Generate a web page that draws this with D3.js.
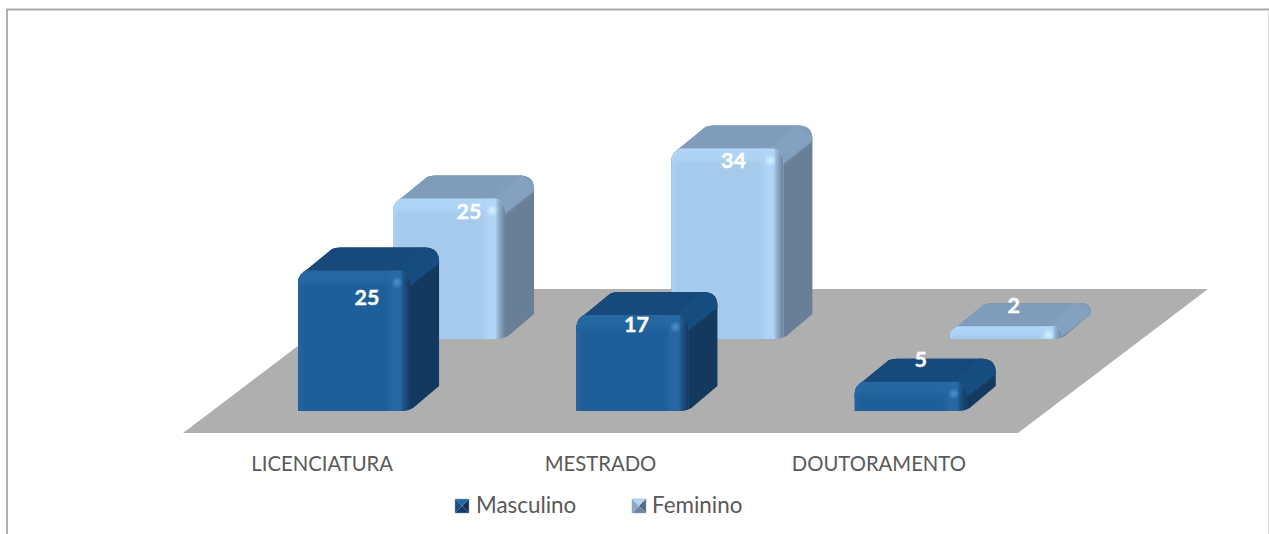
<!DOCTYPE html>
<html><head><meta charset="utf-8">
<script src="https://cdn.jsdelivr.net/npm/d3@7"></script>
<style>html,body{margin:0;padding:0;background:#fff;overflow:hidden}svg{display:block}text{font-family:Lato,"Open Sans",sans-serif}</style>
</head><body>
<script>
const categories = ["LICENCIATURA","MESTRADO","DOUTORAMENTO"];
const seriesNames = ["Masculino","Feminino"];
const masculino = [25,17,5];
const feminino = [25,34,2];

const W=1269,H=534;
const svg=d3.select("body").append("svg").attr("width",W).attr("height",H);
const defs=svg.append("defs");
defs.append("filter").attr("id","soft").attr("x","-20%").attr("y","-20%").attr("width","140%").attr("height","140%")
  .append("feGaussianBlur").attr("stdDeviation",1.6);

// frame
svg.append("path").attr("d",`M7 534V9.5H1269`).attr("fill","none").attr("stroke","#a9a9a9").attr("stroke-width",1.8);
svg.append("line").attr("x1",1268.5).attr("x2",1268.5).attr("y1",10).attr("y2",534).attr("stroke","#dcdcdc");

// 3D projection
const x=d3.scaleBand().domain(categories).range([183,1018]);
const y=d3.scaleLinear().domain([0,34]).range([0,189]);
const zS=d3.scaleOrdinal().domain(seriesNames).range([.153,.653]);
const baseY=433, depthX=190, depthY=144, barDepth=.174, barOff=86, barW=110;

// floor
const floorPts=[[x.range()[0],baseY],[x.range()[1],baseY],[x.range()[1]+depthX,baseY-depthY],[x.range()[0]+depthX,baseY-depthY]];
svg.append("polygon").attr("points",floorPts.join(" ")).attr("fill","#afafaf");

const pal={
 Masculino:{front:"#1f5f99",top:"#17497b",bevel:"#194d80",side:"#14395f",edge:"#286aa4",hi:"#4f93cc"},
 Feminino:{front:"#a6caec",top:"#7f9dbb",bevel:"#84a2c0",side:"#697f98",edge:"#b2d7f8",hi:"#d6f2ff"}
};
seriesNames.forEach(s=>{
 const p=pal[s];
 let g=defs.append("linearGradient").attr("id","h"+s);
 [[0,p.edge,0],[.3,p.edge,.85],[.6,p.edge,.8],[.82,p.side,.55],[1,p.side,1]].forEach(a=>g.append("stop").attr("offset",a[0]).attr("stop-color",a[1]).attr("stop-opacity",a[2]));
 g=defs.append("linearGradient").attr("id","v"+s).attr("x1",0).attr("x2",0).attr("y1",0).attr("y2",1);
 [[0,p.edge,.75],[.6,p.edge,.65],[1,p.edge,0]].forEach(a=>g.append("stop").attr("offset",a[0]).attr("stop-color",a[1]).attr("stop-opacity",a[2]));
 g=defs.append("linearGradient").attr("id","l"+s);
 [[0,p.edge,.6],[1,p.edge,0]].forEach(a=>g.append("stop").attr("offset",a[0]).attr("stop-color",a[1]).attr("stop-opacity",a[2]));
 g=defs.append("radialGradient").attr("id","r"+s);
 [[0,p.hi,1],[1,p.hi,0]].forEach(a=>g.append("stop").attr("offset",a[0]).attr("stop-color",a[1]).attr("stop-opacity",a[2]));
});

// label nudges relative to the bar's front-top edge and centre
const labelNudgeY={Masculino:[25,8,-24],Feminino:[11,11,-22]};
const labelNudgeX={Masculino:[14,5,11],Feminino:[21,7,9]};

const rows=[];
seriesNames.forEach((s,si)=>{(si?feminino:masculino).forEach((v,i)=>rows.push({s,si,i,v,cat:categories[i]}));});
const order=[...rows].sort((a,b)=>b.si-a.si||a.i-b.i);

const dx=31, dy=25;
order.forEach((d,n)=>{
 const p=pal[d.s], z=zS(d.s);
 const X=x(d.cat)+barOff+z*depthX, B=baseY-z*depthY, h=y(d.v), T=B-h+.5, R=X+barW;
 const rc=Math.min(14,h*.8), rl=Math.min(10,h*.55);
 const cid="b"+n, fid="f"+n;
 const sil=`M${X} ${B} L${X} ${T+rl} Q${X} ${T+2} ${X+9} ${T-3} L${X+dx+3} ${T-dy+1.5} Q${X+dx+6} ${T-dy} ${X+dx+11} ${T-dy} L${R+dx-rc} ${T-dy} Q${R+dx} ${T-dy} ${R+dx} ${T-dy+rc} L${R+dx} ${B-dy} L${R+5} ${B-3} Q${R} ${B} ${R-9} ${B} Z`;
 defs.append("clipPath").attr("id",cid).append("path").attr("d",sil);
 const g=svg.append("g").attr("clip-path",`url(#${cid})`);
 g.append("rect").attr("x",X-2).attr("y",T-dy-2).attr("width",barW+dx+4).attr("height",h+dy+4).attr("fill",p.side);
 g.append("polygon").attr("points",[[X-4,T+4],[X+dx-4,T-dy-8],[R+dx+6,T-dy-8],[R+dx+6,T-dy+rc*.8],[R+2,T+rc*.9],[X-4,T+rc]].join(" ")).attr("fill",p.top);
 g.append("polygon").attr("points",[[R-12,T],[R+dx-14,T-dy-2],[R+dx+2,T-dy+rc*.95],[R+2,T+rc*.95]].join(" ")).attr("fill",p.bevel).attr("filter","url(#soft)");
 const rf=Math.min(10,h*.6);
 const front=`M${X-1} ${B+1} L${X-1} ${T+rf-2} Q${X-1} ${T-2} ${X+rf} ${T-2} L${R-rf} ${T-2} Q${R} ${T-2} ${R+2} ${T+rf} L${R+2} ${B+1} Z`;
 defs.append("clipPath").attr("id",fid).append("path").attr("d",front);
 g.append("path").attr("d",front).attr("fill",p.front);
 const fg=g.append("g").attr("clip-path",`url(#${fid})`);
 fg.append("rect").attr("x",X).attr("y",T-2).attr("width",barW+2).attr("height",Math.min(h,16)).attr("fill",`url(#v${d.s})`);
 fg.append("rect").attr("x",R-22).attr("y",T-2).attr("width",24).attr("height",h+3).attr("fill",`url(#h${d.s})`);
 fg.append("rect").attr("x",X).attr("y",T).attr("width",6).attr("height",h).attr("fill",`url(#l${d.s})`);
 g.append("ellipse").attr("cx",R-11).attr("cy",T+Math.min(10,h*.6)).attr("rx",6).attr("ry",Math.min(6,h*.6)).attr("fill",`url(#r${d.s})`);
});

// data labels, on top of everything
order.forEach(d=>{
 const z=zS(d.s);
 const X=x(d.cat)+barOff+z*depthX, T=baseY-z*depthY-y(d.v);
 svg.append("text").text(d.v).attr("x",X+barW/2+labelNudgeX[d.s][d.i]).attr("y",T+labelNudgeY[d.s][d.i]).attr("dy",".35em")
  .attr("text-anchor","middle").attr("fill","#fff").attr("stroke","#fff").attr("stroke-width",.4)
  .attr("font-weight",700).attr("font-size",21.5);
});

// category axis
const axis=svg.append("g").attr("transform",`translate(0,${baseY})`).call(d3.axisBottom(x).tickSize(0).tickPadding(24));
axis.select(".domain").remove();
axis.selectAll("text").attr("fill","#595959").style("font-size","20.3px").style("font-family","Lato,'Open Sans',sans-serif");

// legend
const legendX=d3.scaleOrdinal().domain(seriesNames).range([455,632]);
const legendFaces={Masculino:["#2467a3","#123555","#123a62","#1a4f80"],Feminino:["#b4d6f5","#54687f","#6f879f","#8ba9c4"]};
seriesNames.forEach(s=>{
 const L=legendX(s), t=499, e=14, c=[L+e/2,t+e/2];
 const g=svg.append("g");
 const sq=[[L,t],[L+e,t],[L+e,t+e],[L,t+e]];
 sq.forEach((q,i)=>g.append("polygon").attr("points",[q,sq[(i+1)%4],c].join(" ")).attr("fill",legendFaces[s][i]));
 g.append("rect").attr("x",L).attr("y",t).attr("width",e).attr("height",e).attr("fill","none").attr("stroke","#8ea4b8").attr("stroke-opacity",.6).attr("stroke-width",.8);
 svg.append("text").text(s).attr("x",L+(s==="Masculino"?21:20)).attr("y",505.5).attr("dy",".35em").attr("fill","#595959").attr("font-size",22.4);
});
</script>
</body></html>
